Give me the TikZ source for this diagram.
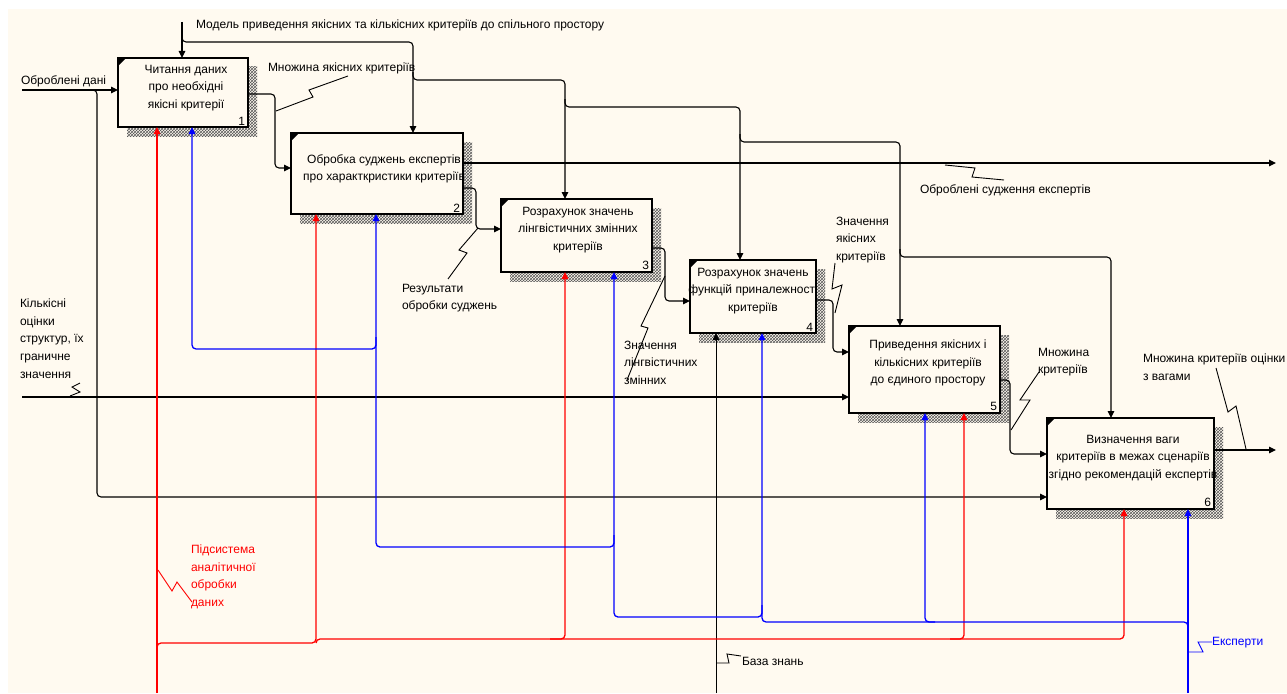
\documentclass[tikz,border=0pt]{standalone}
\usepackage{fontspec}
\setmainfont{Liberation Sans}
\usetikzlibrary{patterns,arrows.meta,calc}
\definecolor{bgc}{RGB}{255,250,240}
\definecolor{idefred}{RGB}{255,0,0}
\definecolor{idefblue}{RGB}{0,0,255}
\begin{document}
\begin{tikzpicture}[x=1pt,y=-1pt,
  every node/.style={font=\fontsize{12}{17.6}\selectfont, inner sep=0pt, outer sep=0pt},
  idefbox/.style={draw, line width=2.6pt, fill=bgc, anchor=north west, inner sep=0pt, outer sep=0pt,
     preaction={draw=none, pattern=crosshatch, pattern color=black!65,
                transform canvas={shift={(9pt,-9pt)}}}},
  boxtext/.style={align=center},
  lbl/.style={align=left, anchor=north west},
  con/.style={line width=1.1pt, rounded corners=4pt},
  redcon/.style={line width=1.3pt, rounded corners=4pt, draw=idefred},
  bluecon/.style={line width=1.3pt, rounded corners=4pt, draw=idefblue},
  arr/.style={-{Triangle[length=7pt,width=6.5pt]}},
  zig/.style={line width=0.9pt},
]
\useasboundingbox (0,0) rectangle (1287,693);
\fill[white] (0,0) rectangle (1287,693);
\fill[bgc] (8,9) rectangle (1287,693);

% boxes
\node[idefbox, minimum width=130pt, minimum height=69pt] (b1) at (118,58) {};
\node[idefbox, minimum width=172pt, minimum height=81pt] (b2) at (291,133) {};
\node[idefbox, minimum width=151pt, minimum height=73pt] (b3) at (501,199) {};
\node[idefbox, minimum width=126pt, minimum height=73pt] (b4) at (690,260) {};
\node[idefbox, minimum width=151pt, minimum height=87pt] (b5) at (849,326) {};
\node[idefbox, minimum width=167pt, minimum height=91pt] (b6) at (1047,418) {};

\foreach \b in {b1,b2,b3,b4,b5,b6}{
  \fill (\b.north west) -- ++(8,0) -- ++(-8,8) -- cycle;
}

\node[boxtext] (t1) at (186,88) {Читання даних\\про необхідні\\якісні критерії};
\node[boxtext] (t2) at (384,169) {Обробка суджень експертів\\про характкристики критеріїв};
\node[boxtext] (t3) at (578,230) {Розрахунок значень\\лінгвістичних змінних\\критеріїв};
\node[boxtext] (t4) at (753,291) {Розрахунок значень\\функцій приналежності\\критеріїв};
\node[boxtext] (t5) at (928,363) {Приведення якісних і\\кількісних критеріїв\\до єдиного простору};
\node[boxtext] (t6) at (1133,458) {Визначення ваги\\критеріїв в межах сценаріїв\\згідно рекомендацій експертів};

\node[anchor=south east] (n1) at ($(b1.south east)+(-3,-2)$) {1};
\node[anchor=south east] (n2) at ($(b2.south east)+(-3,-2)$) {2};
\node[anchor=south east] (n3) at ($(b3.south east)+(-3,-2)$) {3};
\node[anchor=south east] (n4) at ($(b4.south east)+(-3,-2)$) {4};
\node[anchor=south east] (n5) at ($(b5.south east)+(-3,-2)$) {5};
\node[anchor=south east] (n6) at ($(b6.south east)+(-3,-2)$) {6};

% controls
\draw[con,arr] (182,22) -- (b1.north -| 182,0);
\draw[con,arr] (182,34) -- (182,42) -- (413,42) -- (b2.north -| 413,0);
\draw[con,arr] (413,72) -- (413,80) -- (565,80) -- (b3.north -| 565,0);
\draw[con,arr] (565,99) -- (565,107) -- (740,107) -- (b4.north -| 740,0);
\draw[con,arr] (740,134) -- (740,142) -- (900,142) -- (b5.north -| 900,0);
\draw[con,arr] (900,249) -- (900,257) -- (1111,257) -- (b6.north -| 1111,0);

% inputs
\draw[con,arr] (22,90) -- (b1.west |- 0,90);
\draw[con,arr] (88,90) -- (97,90) -- (97,497) -- (b6.west |- 0,497);
\draw[con,arr] (22,397) -- (b5.west |- 0,397);

% outputs
\coordinate (o1) at (1276,163);
\coordinate (o2) at (1276,450);
\draw[con,arr] (b1.east |- 0,94) -- (275,94) -- (275,168) -- (b2.west |- 0,168);
\draw[con,arr] (b2.east |- 0,163) -- (o1);
\draw[con,arr] (b2.east |- 0,188) -- (476,188) -- (476,229) -- (b3.west |- 0,229);
\draw[con,arr] (b3.east |- 0,248) -- (665,248) -- (665,301) -- (b4.west |- 0,301);
\draw[con,arr] (b4.east |- 0,300) -- (833,300) -- (833,352) -- (b5.west |- 0,352);
\draw[con,arr] (b5.east |- 0,380) -- (1010,380) -- (1010,454) -- (b6.west |- 0,454);
\draw[con,arr] (b6.east |- 0,450) -- (o2);

% mechanisms
\draw[con,line width=0.9pt,arr] (716,693) -- (b4.south -| 716,0);

\draw[redcon,arr] (157,693) -- (b1.south -| 157,0);
\draw[redcon,arr] (157,655) -- (157,643) -- (316,643) -- (b2.south -| 316,0);
\draw[redcon,arr] (316,643) -- (316,639) -- (1124,639) -- (b6.south -| 1124,0);
\draw[redcon,arr] (550,639) -- (565,639) -- (b3.south -| 565,0);
\draw[redcon,arr] (950,639) -- (964,639) -- (b5.south -| 964,0);

\draw[bluecon,arr] (1188,693) -- (b6.south -| 1188,0);
\draw[bluecon,arr] (1188,635) -- (1188,622) -- (925,622) -- (b5.south -| 925,0);
\draw[bluecon,arr] (935,622) -- (762,622) -- (b4.south -| 762,0);
\draw[bluecon,arr] (762,605) -- (762,617) -- (614,617) -- (b3.south -| 614,0);
\draw[bluecon,arr] (614,535) -- (614,547) -- (376,547) -- (b2.south -| 376,0);
\draw[bluecon,arr] (376,337) -- (376,349) -- (192,349) -- (b1.south -| 192,0);

% labels
\node[anchor=west] (lmodel) at (196,25) {Модель приведення якісних та кількісних критеріїв до спільного простору};
\node[anchor=west] (lin1) at (21,81) {Оброблені дані};
\node[anchor=west] (lmn1) at (268,68) {Множина якісних критеріїв};
\draw[zig] (276,111) -- (313,97) -- (309,90) -- (348,76);
\node[anchor=west] (lout) at (920,190) {Оброблені судження експертів};
\draw[zig] (945,165) -- (975,168) -- (972,177) -- (1004,180);
\node[lbl] (lres) at (402,284) {Результати\\обробки суджень};
\draw[zig] (448,279) -- (467,253) -- (459,250) -- (478,228);
\node[lbl] (lling) at (624,341) {Значення\\лінгвістичних\\змінних};
\draw[zig] (627,380) -- (648,328) -- (641,326) -- (665,276);
\node[lbl] (ljak) at (836,217) {Значення\\якісних\\критеріїв};
\draw[zig] (835,263) -- (832,289) -- (842,285) -- (835,313);
\node[lbl] (lmn2) at (1038,348) {Множина\\критеріїв};
\draw[zig] (1039,372) -- (1020,400) -- (1030,400) -- (1011,430);
\node[lbl] (lmn3) at (1143,354) {Множина критеріїв оцінки\\з вагами};
\draw[zig] (1216,368) -- (1228,412) -- (1236,406) -- (1246,449);
\node[lbl] (lkil) at (20,299) {Кількісні\\оцінки\\структур, їх\\граничне\\значення};
\draw[zig] (70,396) -- (80,392) -- (72,387) -- (80,383);
\node[lbl, text=idefred] (lsub) at (191,545) {Підсистема\\аналітичної\\обробки\\даних};
\draw[zig, idefred] (158,570) -- (172,591) -- (177,582) -- (192,602);
\node[anchor=west] (lbaza) at (742,661) {База знань};
\draw[zig] (717,663) -- (729,663) -- (727,654) -- (741,656);
\node[anchor=west, text=idefblue] (lexp) at (1212,643) {Експерти};
\draw[zig, idefblue] (1188,652) -- (1203,652) -- (1198,642) -- (1212,642);
\end{tikzpicture}
\end{document}
